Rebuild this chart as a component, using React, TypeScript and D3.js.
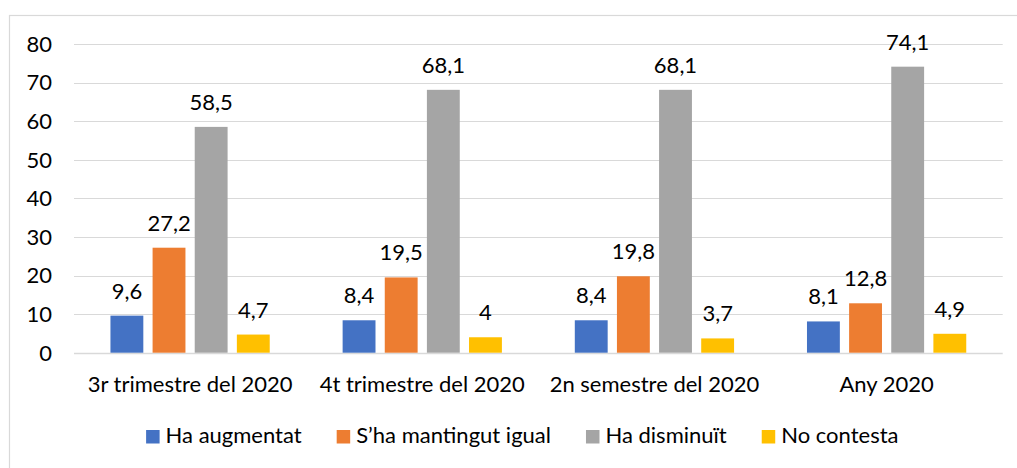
import { useEffect, useRef } from "react";
import * as d3 from "d3";

const categories = [
  "3r trimestre del 2020",
  "4t trimestre del 2020",
  "2n semestre del 2020",
  "Any 2020",
];
const seriesNames = [
  "Ha augmentat",
  "S’ha mantingut igual",
  "Ha disminuït",
  "No contesta",
];
const augmentat = [9.6, 8.4, 8.4, 8.1];
const igual = [27.2, 19.5, 19.8, 12.8];
const disminuit = [58.5, 68.1, 68.1, 74.1];
const noContesta = [4.7, 4, 3.7, 4.9];
const yTicks = [0, 10, 20, 30, 40, 50, 60, 70, 80];
const colors = ["#4472C4", "#ED7D31", "#A5A5A5", "#FFC000"];

const FONT = "Lato, 'Noto Sans', sans-serif";

export default function App() {
  const svgRef = useRef<SVGSVGElement>(null);

  useEffect(() => {
    const el = svgRef.current;
    if (!el) return;
    const svg = d3.select(el);
    svg.selectAll("*").remove();

    const W = 1017;
    const H = 468;
    const left = 74;
    const right = 1002.7;
    const top = 43.9;
    const bottom = 352.7;

    const values = [augmentat, igual, disminuit, noContesta];

    // chart frame (cropped at right/bottom like the source)
    svg
      .append("rect")
      .attr("x", 9.5)
      .attr("y", 15.5)
      .attr("width", W + 20)
      .attr("height", H + 20)
      .attr("fill", "#fff")
      .attr("stroke", "#d9d9d9")
      .attr("stroke-width", 1.2);

    const y = d3.scaleLinear().domain([0, 80]).range([bottom, top]);
    const x0 = d3.scaleBand<string>().domain(categories).range([left, right]);
    const groupW = x0.bandwidth() * 0.686;
    const x1 = d3
      .scaleBand<string>()
      .domain(seriesNames)
      .range([0, groupW])
      .paddingInner(0.22);

    // grid
    svg
      .append("g")
      .selectAll("line")
      .data(yTicks)
      .enter()
      .append("line")
      .attr("x1", left)
      .attr("x2", right)
      .attr("y1", (d) => Math.round(y(d)) + 0.5)
      .attr("y2", (d) => Math.round(y(d)) + 0.5)
      .attr("stroke", "#d9d9d9")
      .attr("stroke-width", (d) => (d === 0 ? 1.6 : 1.2));

    // y labels
    svg
      .append("g")
      .selectAll("text")
      .data(yTicks)
      .enter()
      .append("text")
      .attr("x", 52)
      .attr("y", (d) => y(d))
      .attr("dy", "0.36em")
      .attr("text-anchor", "end")
      .style("font-family", FONT)
      .style("font-size", "22px")
      .attr("fill", "#000")
      .text((d) => d);

    // bars + data labels
    seriesNames.forEach((name, si) => {
      const g = svg.append("g");
      const vals = values[si];
      g.selectAll("rect")
        .data(vals)
        .enter()
        .append("rect")
        .attr("x", (_, i) => x0(categories[i])! + (x0.bandwidth() - groupW) / 2 + x1(name)!)
        .attr("y", (d) => y(d))
        .attr("width", x1.bandwidth())
        .attr("height", (d) => bottom - y(d))
        .attr("fill", colors[si]);
      g.selectAll("text")
        .data(vals)
        .enter()
        .append("text")
        .attr(
          "x",
          (_, i) =>
            x0(categories[i])! + (x0.bandwidth() - groupW) / 2 + x1(name)! + x1.bandwidth() / 2
        )
        .attr("y", (d) => y(d) - 17)
        .attr("text-anchor", "middle")
        .style("font-family", FONT)
        .style("font-size", "22px")
        .attr("fill", "#000")
        .text((d) => String(d).replace(".", ","));
    });

    // category labels
    svg
      .append("g")
      .selectAll("text")
      .data(categories)
      .enter()
      .append("text")
      .attr("x", (d) => x0(d)! + x0.bandwidth() / 2)
      .attr("y", 391.7)
      .attr("text-anchor", "middle")
      .style("font-family", FONT)
      .style("font-size", "22px")
      .attr("fill", "#000")
      .text((d) => d);

    // legend
    const lg = svg.append("g");
    const items = seriesNames.map((name, i) => {
      const gi = lg.append("g");
      gi.append("rect")
        .attr("y", 430)
        .attr("width", 13.5)
        .attr("height", 13.5)
        .attr("fill", colors[i]);
      const t = gi
        .append("text")
        .attr("x", 19.5)
        .attr("y", 443.3)
        .style("font-family", FONT)
        .style("font-size", "22px")
        .attr("fill", "#000")
        .text(name);
      const w = (t.node() as SVGTextElement).getComputedTextLength();
      return { gi, w: 19.5 + w };
    });
    const gap = 35;
    const total = d3.sum(items, (d) => d.w) + gap * (items.length - 1);
    let cx = 522.3 - total / 2;
    items.forEach((it) => {
      it.gi.attr("transform", `translate(${cx},0)`);
      cx += it.w + gap;
    });
  }, []);

  return (
    <div style={{ position: "absolute", left: 0, top: 0 }}>
      <svg ref={svgRef} width={1017} height={468} style={{ display: "block", background: "#fff" }} />
    </div>
  );
}
